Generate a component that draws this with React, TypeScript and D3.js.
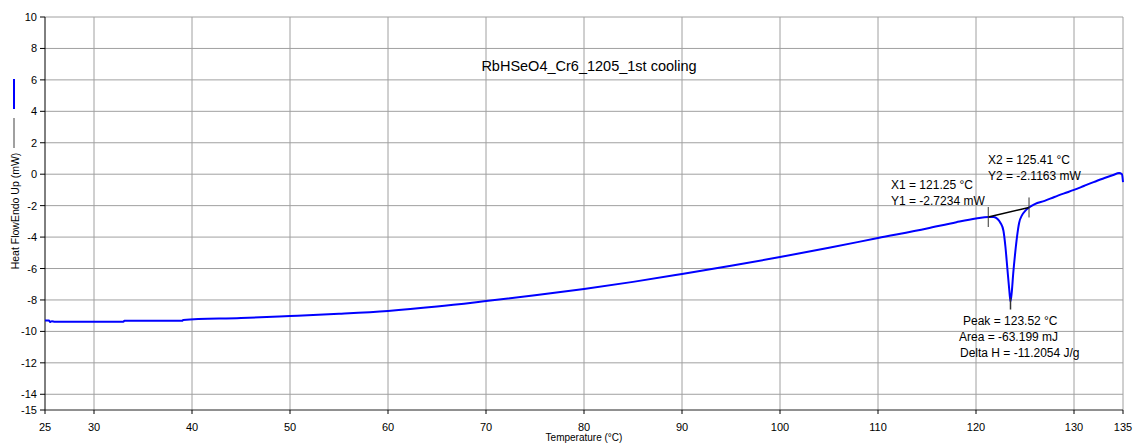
import React from "react";
import * as d3 from "d3";

const temps = [25.0, 25.4, 25.5, 25.7, 26.0, 30, 33, 33.1, 39, 39.1, 45, 50, 55, 60, 65, 70, 75, 80, 85, 90, 95, 100, 105, 110, 115, 118, 120, 121.25, 121.8, 122.2, 122.5, 122.8, 123.0, 123.2, 123.4, 123.52, 123.65, 123.8, 124.0, 124.2, 124.4, 124.7, 125.0, 125.41, 126, 127, 128, 129, 130, 131, 132, 133, 134, 134.6, 134.9, 135];
const heatFlow = [-9.3, -9.3, -9.4, -9.35, -9.38, -9.38, -9.38, -9.33, -9.33, -9.27, -9.15, -9.02, -8.88, -8.7, -8.42, -8.07, -7.7, -7.3, -6.85, -6.35, -5.83, -5.27, -4.68, -4.06, -3.45, -3.05, -2.82, -2.72, -2.72, -2.85, -3.1, -3.6, -4.6, -6.0, -7.4, -8.1, -7.5, -6.3, -5.0, -3.9, -3.1, -2.6, -2.35, -2.12, -1.9, -1.7, -1.45, -1.22, -1.0, -0.75, -0.5, -0.27, -0.05, 0.07, 0.0, -0.5];

const xTicks = [25, 30, 40, 50, 60, 70, 80, 90, 100, 110, 120, 130, 135];
const yTicks = [10, 8, 6, 4, 2, 0, -2, -4, -6, -8, -10, -12, -14, -15];
const xGrid = [30, 40, 50, 60, 70, 80, 90, 100, 110, 120, 130, 135];
const yGrid = [10, 8, 6, 4, 2, 0, -2, -4, -6, -8, -10, -12, -14];

const baseX = [121.25, 125.41];
const baseY = [-2.7234, -2.1163];
const peakT = 123.52;
const peakY = -8.1;

const title = "RbHSeO4_Cr6_1205_1st cooling";
const labelsX1 = ["X1 = 121.25 °C", "Y1 = -2.7234 mW"];
const labelsX2 = ["X2 = 125.41 °C", "Y2 = -2.1163 mW"];
const labelsPeak = ["Peak = 123.52 °C", "Area = -63.199 mJ", "Delta H = -11.2054 J/g"];

const W = 1137, H = 445;
const L = 45, R = 1123, T = 17, B = 410;
const font = "'Liberation Sans', Arial, sans-serif";

export default function App() {
  const x = d3.scaleLinear().domain([25, 135]).range([L, R]);
  const y = d3.scaleLinear().domain([-15, 10]).range([B, T]);
  const pts = temps.map((t, i) => [t, heatFlow[i]] as [number, number]);
  const line = d3.line<[number, number]>().x(d => x(d[0])).y(d => y(d[1])).curve(d3.curveMonotoneX);
  const bx1 = x(baseX[0]), bx2 = x(baseX[1]);
  const by1 = y(baseY[0]), by2 = y(baseY[1]);
  const px = x(peakT);
  return (
    <svg width={W} height={H} style={{ position: "absolute", left: 0, top: 0, background: "#fff" }} fontFamily={font}>
      <rect x={0} y={0} width={W} height={H} fill="#fff" />
      {xGrid.map(v => (
        <line key={"gx" + v} x1={x(v)} x2={x(v)} y1={T} y2={B} stroke="#a0a0a0" strokeWidth={1} />
      ))}
      {yGrid.map(v => (
        <line key={"gy" + v} x1={L} x2={R} y1={y(v)} y2={y(v)} stroke="#a0a0a0" strokeWidth={1} />
      ))}
      <line x1={L} x2={L} y1={T} y2={B} stroke="#000" strokeWidth={1} />
      <line x1={L} x2={R} y1={B} y2={B} stroke="#222" strokeWidth={1} />
      {yTicks.map(v => (
        <g key={"ty" + v}>
          <line x1={L - 5} x2={L} y1={y(v)} y2={y(v)} stroke="#000" />
          <text x={L - 8} y={y(v) + 4} fontSize={11} textAnchor="end" fill="#000">{v}</text>
        </g>
      ))}
      {xTicks.map(v => (
        <g key={"tx" + v}>
          <line x1={x(v)} x2={x(v)} y1={B} y2={B + 4} stroke="#000" />
          <text x={x(v)} y={B + 21} fontSize={11} textAnchor="middle" fill="#000">{v}</text>
        </g>
      ))}
      <text x={(L + R) / 2} y={441} fontSize={10} textAnchor="middle" fill="#000">Temperature (°C)</text>
      <text transform={`translate(19,211) rotate(-90)`} fontSize={10.5} textAnchor="middle" fill="#000">Heat FlowEndo Up (mW)</text>
      <line x1={14} x2={14} y1={79} y2={109} stroke="#0000ff" strokeWidth={2} />
      <line x1={14} x2={14} y1={118} y2={148} stroke="#808080" strokeWidth={1.5} />
      <text x={589} y={71} fontSize={14.5} textAnchor="middle" fill="#000">{title}</text>
      <path d={line(pts) || ""} fill="none" stroke="#0000ff" strokeWidth={2} />
      <line x1={bx1} y1={by1} x2={bx2} y2={by2} stroke="#000" strokeWidth={1.5} />
      <line x1={bx1} x2={bx1} y1={by1 - 10} y2={by1 + 10} stroke="#333" />
      <line x1={bx2} x2={bx2} y1={by2 - 10} y2={by2 + 10} stroke="#333" />
      <line x1={px} x2={px} y1={y(peakY) - 4} y2={y(peakY) + 8} stroke="#333" strokeWidth={1.5} />
      {labelsX1.map((s, i) => (
        <text key={"l1" + i} x={891} y={189 + i * 16} fontSize={12} fill="#000">{s}</text>
      ))}
      {labelsX2.map((s, i) => (
        <text key={"l2" + i} x={988} y={164 + i * 16} fontSize={12} fill="#000">{s}</text>
      ))}
      {labelsPeak.map((s, i) => (
        <text key={"lp" + i} x={[963, 959, 960][i]} y={325 + i * 16} fontSize={12} fill="#000">{s}</text>
      ))}
    </svg>
  );
}
